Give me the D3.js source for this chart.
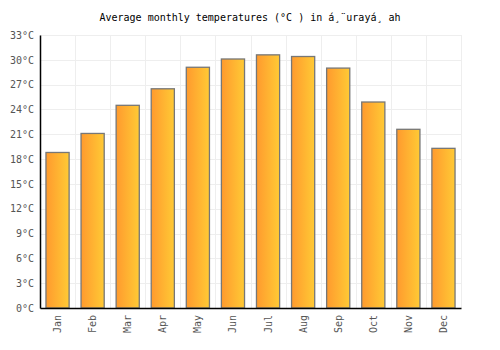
<!DOCTYPE html>
<html>
<head>
<meta charset="utf-8">
<script src="https://cdn.jsdelivr.net/npm/d3@7"></script>
<style>
  body { margin: 0; background: #fff; }
  text { font-family: "DejaVu Sans Mono", monospace; }
</style>
</head>
<body>
<div id="chart"></div>
<script>
// data
var months = ['Jan', 'Feb', 'Mar', 'Apr', 'May', 'Jun', 'Jul', 'Aug', 'Sep', 'Oct', 'Nov', 'Dec']
var temps = [18.8, 21.1, 24.5, 26.5, 29.1, 30.1, 30.6, 30.4, 29.0, 24.9, 21.6, 19.3]
var yTicks = [0, 3, 6, 9, 12, 15, 18, 21, 24, 27, 30, 33]

var margin = { top: 35, left: 40, right: 39, bottom: 42 }
var width = 500 - margin.left - margin.right
var height = 350 - margin.top - margin.bottom

var svg = d3
  .select('#chart')
  .append('svg')
  .attr('width', 500)
  .attr('height', 350)

var defs = svg.append('defs')
var grad = defs
  .append('linearGradient')
  .attr('id', 'barGrad')
  .attr('x1', '0%')
  .attr('x2', '100%')
  .attr('y1', '0%')
  .attr('y2', '0%')
grad.append('stop').attr('offset', '0%').attr('stop-color', '#ff9a2e')
grad.append('stop').attr('offset', '100%').attr('stop-color', '#ffca35')

var g = svg
  .append('g')
  .attr('transform', 'translate(' + margin.left + ',' + margin.top + ')')

var xPositionScale = d3
  .scaleBand()
  .domain(months)
  .range([0, width])
  .paddingInner(0.34)
  .paddingOuter(0.17)

var yPositionScale = d3
  .scaleLinear()
  .domain([0, 33])
  .range([height, 0])

// grid
g.selectAll('.hgrid')
  .data(yTicks)
  .enter()
  .append('line')
  .attr('x1', 0)
  .attr('x2', width)
  .attr('y1', d => Math.round(yPositionScale(d)) + 0.5)
  .attr('y2', d => Math.round(yPositionScale(d)) + 0.5)
  .attr('stroke', '#eeeeee')

var step = width / months.length
g.selectAll('.vgrid')
  .data(d3.range(1, months.length + 1))
  .enter()
  .append('line')
  .attr('x1', d => Math.round(d * step) + 0.5)
  .attr('x2', d => Math.round(d * step) + 0.5)
  .attr('y1', 0)
  .attr('y2', height)
  .attr('stroke', '#eeeeee')

// bars
g.selectAll('.bar')
  .data(temps)
  .enter()
  .append('rect')
  .attr('x', (d, i) => xPositionScale(months[i]))
  .attr('y', d => yPositionScale(d))
  .attr('width', xPositionScale.bandwidth())
  .attr('height', d => height - yPositionScale(d))
  .attr('fill', 'url(#barGrad)')
  .attr('stroke', '#777777')
  .attr('stroke-width', 1.3)

// axes
var yAxis = d3
  .axisLeft(yPositionScale)
  .tickValues(yTicks)
  .tickSize(0)
  .tickPadding(6)
  .tickFormat(d => d + '°C')

g.append('g')
  .attr('class', 'axis y-axis')
  .call(yAxis)
  .call(s => s.select('.domain').attr('stroke', '#000').attr('stroke-width', 1.5))
  .selectAll('text')
  .attr('font-size', 10)
  .attr('fill', '#555')

var xAxis = d3.axisBottom(xPositionScale).tickSize(0).tickPadding(0)

g.append('g')
  .attr('class', 'axis x-axis')
  .attr('transform', 'translate(0,' + height + ')')
  .call(xAxis)
  .call(s => s.select('.domain').attr('stroke', '#000').attr('stroke-width', 1.5))
  .selectAll('text')
  .attr('font-size', 10)
  .attr('fill', '#555')
  .attr('text-anchor', 'end')
  .attr('transform', 'rotate(-90)')
  .attr('x', -7)
  .attr('y', 0)
  .attr('dy', '0.35em')

// title
svg
  .append('text')
  .text('Average monthly temperatures (°C ) in á¸¨urayá¸ ah')
  .attr('x', 250)
  .attr('y', 21)
  .attr('text-anchor', 'middle')
  .attr('font-size', 10)
  .attr('fill', '#000')
</script>
</body>
</html>
